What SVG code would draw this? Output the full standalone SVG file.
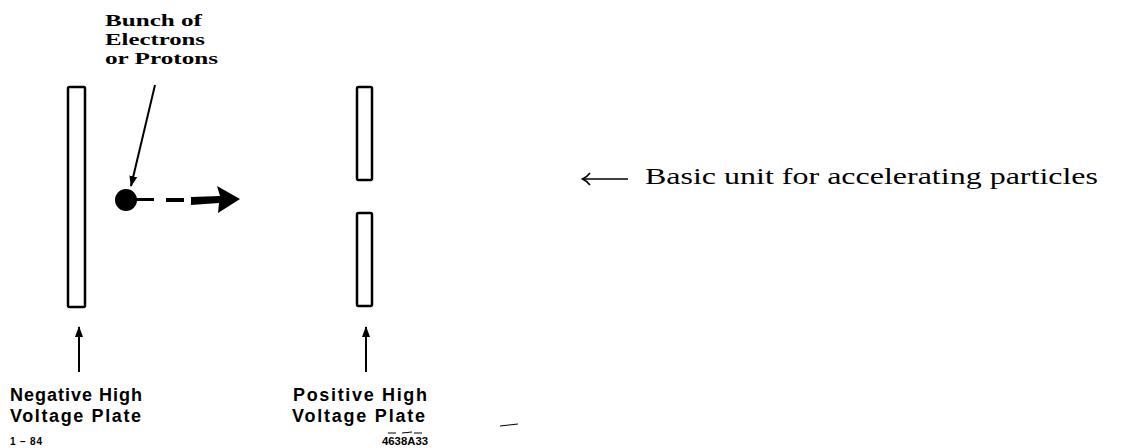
<svg xmlns="http://www.w3.org/2000/svg" width="1136" height="448" viewBox="0 0 1136 448">
<style>
.plate{fill:#fff;stroke:#000;stroke-width:2.5}
.sans{font-family:"Liberation Sans","DejaVu Sans",sans-serif;font-size:18px;font-weight:bold;fill:#000}
.serif{font-family:"Liberation Serif","DejaVu Serif",serif;fill:#000}
.bl{font-size:17px;font-weight:bold}
.small{font-family:"Liberation Sans",sans-serif;font-size:10px;font-weight:bold;fill:#000}
.ln{stroke:#000;stroke-width:2;fill:none}
</style>
<defs>
<marker id="ah" markerWidth="11" markerHeight="11" refX="10" refY="5.5" orient="auto" markerUnits="userSpaceOnUse">
<path d="M0,1.5 L11,5.5 L0,9.5 Z" fill="#000"/>
</marker>
</defs>
<rect width="1136" height="448" fill="#fff"/>
<g id="neg-plate"><rect class="plate" x="68" y="87" width="17" height="220" rx="1.5"/></g>
<g id="pos-plate">
<rect class="plate" x="357" y="87" width="15" height="93" rx="1.5"/>
<rect class="plate" x="357" y="213" width="15" height="93" rx="1.5"/>
</g>
<g id="bunch">
<circle cx="126" cy="200" r="11" fill="#000"/>
<line x1="136" y1="199.5" x2="154" y2="199.5" stroke="#000" stroke-width="3"/>
<line x1="166" y1="200" x2="184" y2="200" stroke="#000" stroke-width="4"/>
<path d="M191,197 L220,196 L217,186 L240,199 L218,213 L219,203 L191,205 Z" fill="#000"/>
</g>
<g id="labels">
<text class="serif bl" x="105" y="26" textLength="97" lengthAdjust="spacingAndGlyphs">Bunch of</text>
<text class="serif bl" x="105" y="45" textLength="100" lengthAdjust="spacingAndGlyphs">Electrons</text>
<text class="serif bl" x="105" y="64" textLength="113" lengthAdjust="spacingAndGlyphs">or Protons</text>
<text class="sans" x="10" y="401" textLength="132" lengthAdjust="spacing">Negative High</text>
<text class="sans" x="10" y="422" textLength="131" lengthAdjust="spacing">Voltage Plate</text>
<text class="sans" x="293" y="401" textLength="134" lengthAdjust="spacing">Positive High</text>
<text class="sans" x="292" y="422" textLength="133" lengthAdjust="spacing">Voltage Plate</text>
<text class="small" x="10" y="445" textLength="32" lengthAdjust="spacing">1 − 84</text>
<text class="small" x="382" y="445" textLength="46" lengthAdjust="spacingAndGlyphs">4638A33</text>
<text class="serif" font-size="24" x="645" y="184" textLength="453" lengthAdjust="spacingAndGlyphs">Basic unit for accelerating particles</text>
</g>
<g id="connectors">
<line class="ln" x1="155" y1="85" x2="131" y2="186" marker-end="url(#ah)" stroke-width="1.8"/>
<line class="ln" x1="79" y1="372" x2="79" y2="327" marker-end="url(#ah)"/>
<line class="ln" x1="366" y1="372" x2="366" y2="327" marker-end="url(#ah)"/>
<line x1="628" y1="179" x2="583" y2="179" stroke="#000" stroke-width="1.6"/>
<path d="M590,173 Q587,177 582.5,179 Q587,181 590,185" stroke="#000" stroke-width="1.6" fill="none"/>
<line x1="500" y1="426" x2="518" y2="424" stroke="#000" stroke-width="1"/>
<path d="M388,433 L396,433 M402,433 L412,432 M414,433 L422,433" stroke="#000" stroke-width="1"/>
</g>
</svg>
